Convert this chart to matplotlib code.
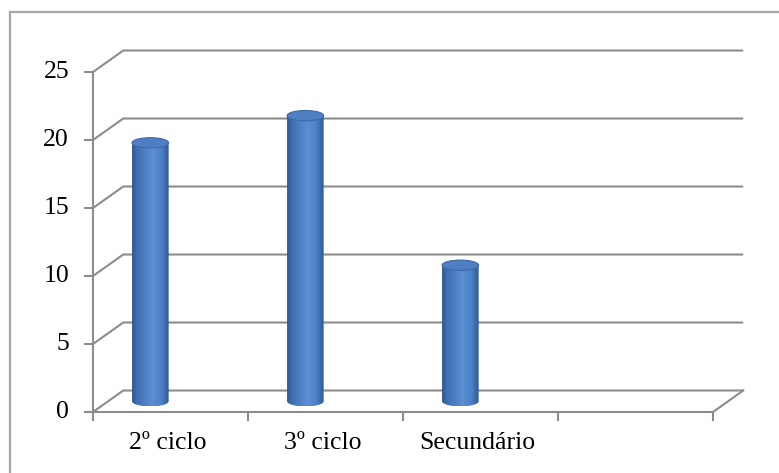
import numpy as np
import matplotlib
matplotlib.use("Agg")
import matplotlib.pyplot as plt
from matplotlib.patches import Polygon, Ellipse
from matplotlib.colors import LinearSegmentedColormap
from matplotlib.lines import Line2D

# --- data -------------------------------------------------------------
categories = ["2º ciclo", "3º ciclo", "Secundário"]
values = [19, 21, 10]
y_ticks = [0, 5, 10, 15, 20, 25]
n_slots = 4          # category slots on the floor (last one empty)

# --- layout (data units: 1 x-unit = one category slot) -----------------
W, H, DPI = 779, 473, 100
X0_PX, SLOT_PX = 93, 155.0        # front axis position / slot width in px
Y0_PX, UNIT_PX = 412, 13.6        # floor line / px per value unit
DX, DY = 0.195, 1.58              # depth offset of back wall
BAR_OFF = 0.37                    # cylinder centre inside its slot
BAR_HW = 0.118                    # cylinder half width
ELL_H = 0.38                      # half height of the elliptical caps

GRID = "#8C8C8C"
FONT = "Liberation Serif"
FS = 18.5

fig = plt.figure(figsize=(W / DPI, H / DPI), dpi=DPI)
ax = fig.add_axes([0, 0, 1, 1])
ax.set_xlim(-X0_PX / SLOT_PX, (W - X0_PX) / SLOT_PX)
ax.set_ylim((Y0_PX - H) / UNIT_PX, Y0_PX / UNIT_PX)
ax.set_axis_off()

# outer chart frame (left and top edges)
fig.add_artist(Line2D([9.5 / W, 9.5 / W], [0, 1 - 12 / H], transform=fig.transFigure,
                      color="#A6A6A6", lw=1.6))
fig.add_artist(Line2D([9.5 / W, 1], [1 - 12 / H, 1 - 12 / H], transform=fig.transFigure,
                      color="#A6A6A6", lw=1.6))

lw = 1.5
# gridlines on the back wall with their diagonal returns
for v in y_ticks:
    ax.plot([0, DX, n_slots + DX], [v, v + DY, v + DY], color=GRID, lw=lw,
            solid_capstyle="butt", zorder=1)
# floor front edge and right diagonal
ax.plot([0, n_slots, n_slots + DX], [0, 0, DY], color=GRID, lw=lw, zorder=1)
# vertical value axis
ax.plot([0, 0], [0, y_ticks[-1]], color=GRID, lw=lw, zorder=1)
tick_len_x = 8 / SLOT_PX
tick_len_y = 8 / UNIT_PX
for v in y_ticks:
    ax.plot([-tick_len_x, 0], [v, v], color=GRID, lw=lw, zorder=1)
    ax.text(-24 / SLOT_PX, v, str(v), ha="right", va="center",
            fontsize=FS, family=FONT, color="black")
for i in range(n_slots + 1):
    ax.plot([i, i], [0, -tick_len_y], color=GRID, lw=lw, zorder=1)

for i, lab in enumerate(categories):
    ax.text(i + 0.48, -31 / UNIT_PX, lab, ha="center", va="center",
            fontsize=FS, family=FONT, color="black")

# cylinder shading
body_cmap = LinearSegmentedColormap.from_list(
    "cyl", [(0.0, "#2C5690"), (0.12, "#3F6DB0"), (0.55, "#5B8FD6"),
            (0.8, "#4D80C6"), (1.0, "#2D5893")])
grad = np.linspace(0, 1, 256)[None, :]

base = DY / 2
t = np.linspace(np.pi, 2 * np.pi, 60)
for i, v in enumerate(values):
    cx = i + BAR_OFF
    top = v + base
    xs = np.concatenate([[cx - BAR_HW], cx + BAR_HW * np.cos(t), [cx + BAR_HW]])
    ys = np.concatenate([[top], base + ELL_H * np.sin(t), [top]])
    body = Polygon(np.column_stack([xs, ys]), closed=True, facecolor="none",
                   edgecolor="none")
    ax.add_patch(body)
    im = ax.imshow(grad, cmap=body_cmap, aspect="auto", interpolation="bilinear",
                   extent=(cx - BAR_HW, cx + BAR_HW, base - ELL_H, top), zorder=3)
    im.set_clip_path(body)
    cap = Ellipse((cx, top), 2 * BAR_HW, 2 * ELL_H, angle=0,
                  facecolor="#4E7FC2", edgecolor="#3D69A6", lw=0.8, zorder=4)
    ax.add_patch(cap)

ax.set_xlim(-X0_PX / SLOT_PX, (W - X0_PX) / SLOT_PX)
ax.set_ylim((Y0_PX - H) / UNIT_PX, Y0_PX / UNIT_PX)
fig.savefig("out.png", dpi=DPI, facecolor="white")
